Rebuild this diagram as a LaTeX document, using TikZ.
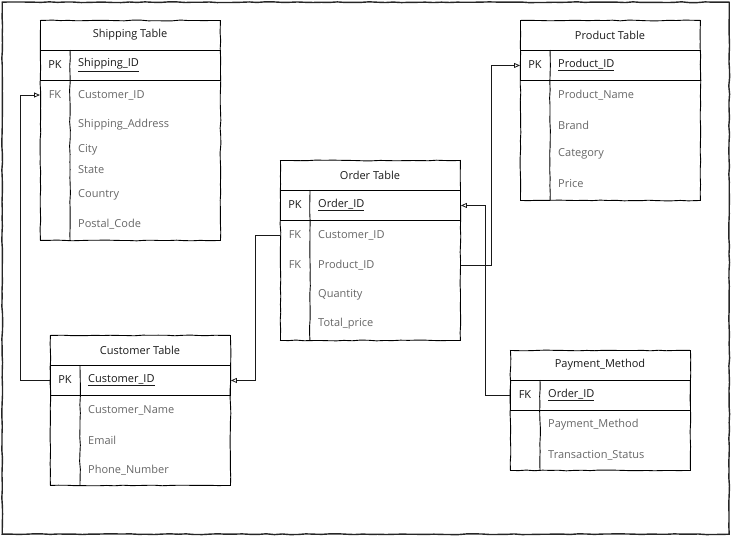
\documentclass[tikz,border=0pt]{standalone}
\usepackage{fontspec}
\setmainfont{Open Sans}
\usetikzlibrary{calc,arrows.meta,decorations.pathmorphing}

\begin{document}
\pgfmathsetseed{7}
\begin{tikzpicture}[x=1pt,y=1pt,
  rough/.style={decorate, decoration={random steps, segment length=8pt, amplitude=0.4pt}},
  frame/.style={draw=black!85, line width=1.4pt, rough, anchor=north west, inner sep=0pt},
  tbl/.style={draw=black, line width=0.9pt, rough, anchor=north west, inner sep=0pt, minimum width=180pt},
  band/.style={draw=black, line width=0.9pt, anchor=north west, inner sep=0pt, minimum width=180pt, minimum height=30pt},
  divider/.style={draw=black, line width=0.9pt, rough},
  title/.style={font=\fontsize{11}{13}\selectfont, text=black!90},
  key/.style={font=\fontsize{11}{13}\selectfont, text=black!90},
  fkey/.style={font=\fontsize{11}{13}\selectfont, text=black!60},
  pkname/.style={anchor=west, inner sep=0pt, font=\fontsize{11}{13}\selectfont, text=black!90},
  field/.style={anchor=west, inner sep=0pt, font=\fontsize{11}{13}\selectfont, text=black!60},
  conn/.style={draw=black!90, line width=0.8pt, -{Triangle[open, length=6pt, width=5pt]}}
]
\useasboundingbox (0,0) rectangle (731,-536);

% page frame
\node[frame, minimum width=727pt, minimum height=532pt] (page) at (1.5,-1.5) {};

% ---------------- Shipping Table ----------------
\node[tbl, minimum height=220pt] (shp) at (40,-20) {};
\node[band] (shp-pk) at (40,-50) {};
\draw[divider] (shp-pk.north west) ++(30,0) coordinate (shp-d1) -- (shp-d1 |- shp.south);
\node[title] (shp-t) at (130,-35) {Shipping Table};
\node[key] (shp-k1) at (55,-65) {PK};
\node[pkname] (shp-id) at (78,-65) {\underline{Shipping\_ID}};
\node[fkey] (shp-k2) at (55,-95) {FK};
\node[field] (shp-cid) at (78,-95) {Customer\_ID};
\node[field] (shp-adr) at (78,-125) {Shipping\_Address};
\node[field] (shp-city) at (78,-150) {City};
\node[field] (shp-st) at (78,-170) {State};
\node[field] (shp-ctry) at (78,-195) {Country};
\node[field] (shp-zip) at (78,-224) {Postal\_Code};

% ---------------- Product Table ----------------
\node[tbl, minimum height=180pt] (prd) at (520,-20) {};
\node[band] (prd-pk) at (520,-50) {};
\draw[divider] (prd-pk.north west) ++(30,0) coordinate (prd-d1) -- (prd-d1 |- prd.south);
\node[title] (prd-t) at (610,-35) {Product Table};
\node[key] (prd-k1) at (535,-65) {PK};
\node[pkname] (prd-id) at (558,-65) {\underline{Product\_ID}};
\node[field] (prd-name) at (558,-95) {Product\_Name};
\node[field] (prd-brand) at (558,-125) {Brand};
\node[field] (prd-cat) at (558,-154) {Category};
\node[field] (prd-price) at (558,-184) {Price};

% ---------------- Order Table ----------------
\node[tbl, minimum height=180pt] (ord) at (280,-160) {};
\node[band] (ord-pk) at (280,-190) {};
\draw[divider] (ord-pk.north west) ++(30,0) coordinate (ord-d1) -- (ord-d1 |- ord.south);
\node[title] (ord-t) at (370,-175) {Order Table};
\node[key] (ord-k1) at (295,-205) {PK};
\node[pkname] (ord-id) at (318,-205) {\underline{Order\_ID}};
\node[fkey] (ord-k2) at (295,-235) {FK};
\node[field] (ord-cid) at (318,-235) {Customer\_ID};
\node[fkey] (ord-k3) at (295,-265) {FK};
\node[field] (ord-pid) at (318,-265) {Product\_ID};
\node[field] (ord-qty) at (318,-295) {Quantity};
\node[field] (ord-tot) at (318,-324) {Total\_price};

% ---------------- Customer Table ----------------
\node[tbl, minimum height=150pt] (cus) at (50,-335) {};
\node[band] (cus-pk) at (50,-365) {};
\draw[divider] (cus-pk.north west) ++(30,0) coordinate (cus-d1) -- (cus-d1 |- cus.south);
\node[title] (cus-t) at (140,-350) {Customer Table};
\node[key] (cus-k1) at (65,-380) {PK};
\node[pkname] (cus-id) at (88,-380) {\underline{Customer\_ID}};
\node[field] (cus-name) at (88,-410) {Customer\_Name};
\node[field] (cus-mail) at (88,-440) {Email};
\node[field] (cus-tel) at (88,-470) {Phone\_Number};

% ---------------- Payment_Method ----------------
\node[tbl, minimum height=120pt] (pay) at (510,-350) {};
\node[band] (pay-pk) at (510,-380) {};
\draw[divider] (pay-pk.north west) ++(30,0) coordinate (pay-d1) -- (pay-d1 |- pay.south);
\node[title] (pay-t) at (600,-365) {Payment\_Method};
\node[key] (pay-k1) at (525,-395) {FK};
\node[pkname] (pay-id) at (548,-395) {\underline{Order\_ID}};
\node[field] (pay-meth) at (548,-425) {Payment\_Method};
\node[field] (pay-stat) at (548,-455) {Transaction\_Status};

% ---------------- relations ----------------
\draw[conn] (cus-pk.west) -- ++(-30,0) |- (shp.west |- shp-cid);
\draw[conn] (ord.west |- ord-cid) -- ++(-25,0) |- (cus-pk.east);
\draw[conn] (ord.east |- ord-pid) -- ++(30,0) |- (prd-pk.west);
\draw[conn] (pay-pk.west) -- ++(-25,0) |- (ord-pk.east);
\end{tikzpicture}
\end{document}
